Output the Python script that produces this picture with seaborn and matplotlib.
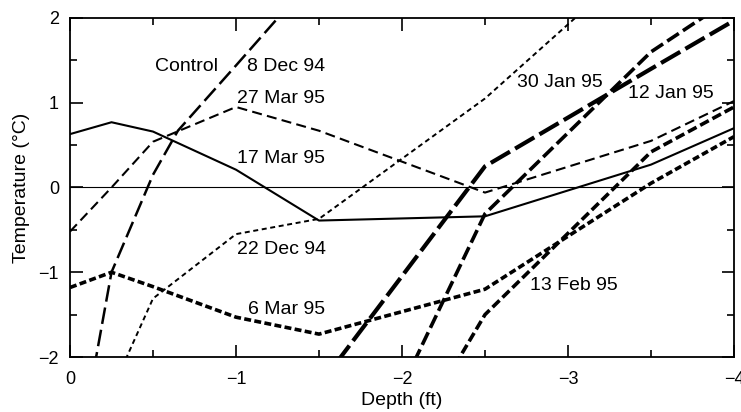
import matplotlib
matplotlib.use("Agg")
import matplotlib.pyplot as plt
from matplotlib.ticker import MultipleLocator
import seaborn as sns
import pandas as pd

# ---- data ----
depth = [0, -0.25, -0.5, -1, -1.5, -2.5, -3.5, -4]
mar17 = [0.63, 0.77, 0.66, 0.21, -0.39, -0.34, 0.27, 0.70]
mar27 = [-0.52, 0.0, 0.54, 0.95, 0.67, -0.06, 0.55, 1.02]
mar6 = [-1.18, -1.0, -1.17, -1.53, -1.73, -1.2, 0.05, 0.6]

dec22_depth = [-0.25, -0.5, -1, -1.5, -2.5, -3.5]
dec22 = [-2.4, -1.31, -0.55, -0.37, 1.05, 2.8]

late_depth = [-1.5, -2.5, -3.5, -4]
jan30 = [-2.34, 0.25, 1.4, 1.97]
jan12 = [-4.4, -0.31, 1.6, 2.25]
feb13 = [-4.8, -1.5, 0.42, 0.95]

dec8_depth = [0, -0.25, -0.5, -0.65, -1, -1.5]
dec8 = [-3.7, -1.0, 0.15, 0.67, 1.44, 2.55]

labels = ["Control", "8 Dec 94", "27 Mar 95", "17 Mar 95", "22 Dec 94",
          "6 Mar 95", "30 Jan 95", "12 Jan 95", "13 Feb 95"]
label_x = [-0.512, -1.066, -1.006, -1.006, -1.006, -1.072, -2.693, -3.361, -2.771]
label_y = [1.43, 1.43, 1.05, 0.34, -0.73, -1.44, 1.24, 1.11, -1.156]

# ---- style ----
sns.set_style("ticks")
plt.rcParams["font.family"] = ["Liberation Sans", "DejaVu Sans"]
plt.rcParams["lines.scale_dashes"] = False
plt.rcParams["axes.labelcolor"] = "black"
plt.rcParams["text.color"] = "black"

fig = plt.figure(figsize=(7.41, 4.12), dpi=100)
ax = fig.add_axes([70 / 741, 1 - 357 / 412, (734 - 70) / 741, (357 - 18) / 412])

series = [
    (depth, mar17, "-", 1.5),
    (depth, mar27, (0, (7.2, 3.8)), 1.5),
    (depth, mar6, (0, (5.0, 2.4)), 2.6),
    (dec22_depth, dec22, (0, (3.6, 2.6)), 1.4),
    (late_depth, jan30, (0, (16, 4.3)), 3.0),
    (late_depth, jan12, (0, (10, 3.6)), 2.6),
    (late_depth, feb13, (0, (7, 3.0)), 2.6),
    (dec8_depth, dec8, (0, (12, 4.3)), 1.8),
]
for xs, ys, ls, lw in series:
    df = pd.DataFrame({"depth": xs, "temp": ys})
    sns.lineplot(data=df, x="depth", y="temp", ax=ax, color="black",
                 linestyle=ls, linewidth=lw, sort=False, estimator=None)

ax.axhline(0, color="black", linewidth=0.8, zorder=1)

for t, x, y in zip(labels, label_x, label_y):
    ax.text(x, y, t, ha="left", va="center", fontsize=14, color="black")

ax.set_xlim(0, -4)
ax.set_ylim(-2, 2)
ax.xaxis.set_major_locator(MultipleLocator(1))
ax.xaxis.set_minor_locator(MultipleLocator(0.5))
ax.yaxis.set_major_locator(MultipleLocator(1))
ax.yaxis.set_minor_locator(MultipleLocator(0.5))
ax.tick_params(which="both", direction="in", top=True, right=True,
               color="black", width=1.2, labelsize=13, labelcolor="black")
ax.tick_params(axis="x", which="major", length=9, pad=10)
ax.tick_params(axis="y", which="major", length=9, pad=8)
ax.tick_params(which="minor", length=5)
for s in ax.spines.values():
    s.set_linewidth(1.3)
    s.set_color("black")

ax.set_xlabel("Depth (ft)", fontsize=14, labelpad=3, color="black")
ax.set_ylabel("Temperature (\u00b0C)", fontsize=14, labelpad=6, color="black")

fig.savefig("out.png", dpi=100)
